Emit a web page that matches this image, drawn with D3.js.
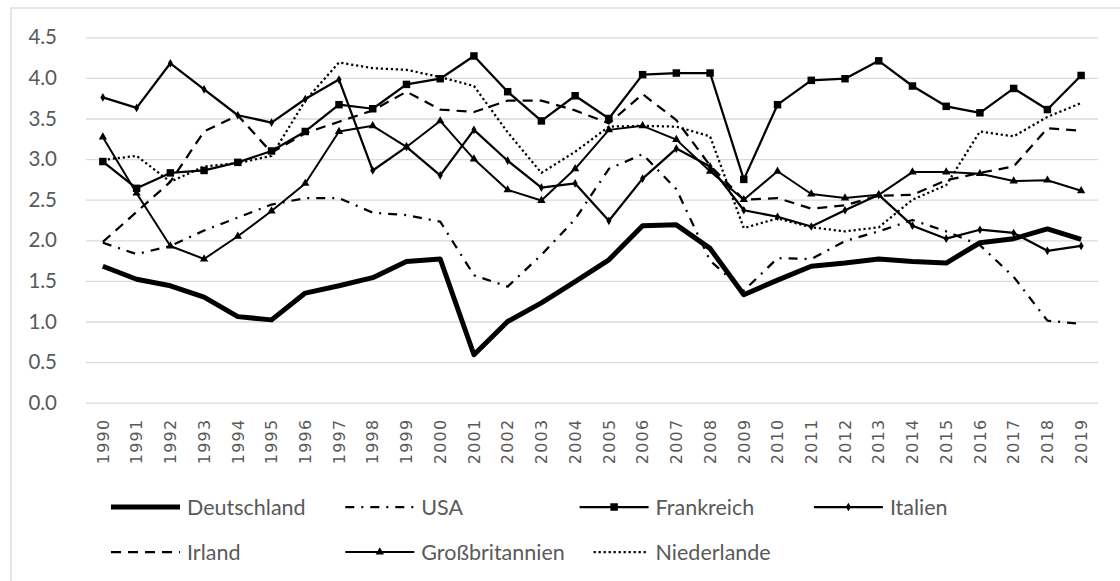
<!DOCTYPE html>
<html>
<head>
<meta charset="utf-8">
<script src="https://cdn.jsdelivr.net/npm/d3@7/dist/d3.min.js"></script>
<style>
  body { margin: 0; background: #fff; }
  svg { display: block; }
</style>
</head>
<body>
<svg id="chart" width="1120" height="581"></svg>
<script>
// data
var years = ["1990","1991","1992","1993","1994","1995","1996","1997","1998","1999",
             "2000","2001","2002","2003","2004","2005","2006","2007","2008","2009",
             "2010","2011","2012","2013","2014","2015","2016","2017","2018","2019"];

var deutschland = [1.68,1.52,1.44,1.30,1.06,1.02,1.35,1.44,1.54,1.74,1.77,0.59,1.00,1.23,1.49,1.76,2.18,2.19,1.90,1.33,1.51,1.68,1.72,1.77,1.74,1.72,1.97,2.02,2.14,2.01];
var usa = [1.97,1.83,1.93,2.12,2.28,2.44,2.52,2.52,2.34,2.31,2.23,1.57,1.43,1.82,2.26,2.88,3.06,2.63,1.75,1.38,1.78,1.77,1.99,2.11,2.25,2.11,1.94,1.55,1.01,0.97];
var frankreich = [2.97,2.64,2.83,2.86,2.96,3.10,3.34,3.67,3.62,3.92,3.99,4.27,3.83,3.47,3.78,3.50,4.04,4.06,4.06,2.75,3.67,3.97,3.99,4.21,3.90,3.65,3.57,3.87,3.61,4.03];
var italien = [3.76,3.63,4.18,3.86,3.54,3.45,3.74,3.98,2.86,3.15,2.80,3.36,2.98,2.65,2.70,2.24,2.76,3.13,2.91,2.37,2.29,2.17,2.37,2.56,2.18,2.02,2.13,2.09,1.87,1.93];
var irland = [1.98,2.35,2.72,3.34,3.54,3.08,3.32,3.46,3.60,3.83,3.61,3.58,3.72,3.72,3.60,3.44,3.80,3.48,2.92,2.50,2.52,2.39,2.43,2.55,2.56,2.74,2.83,2.91,3.38,3.35];
var grossbritannien = [3.27,2.58,1.93,1.77,2.05,2.36,2.70,3.34,3.41,3.15,3.47,3.00,2.62,2.49,2.88,3.36,3.41,3.24,2.85,2.50,2.85,2.57,2.52,2.56,2.84,2.84,2.82,2.73,2.74,2.61];
var niederlande = [2.99,3.04,2.72,2.91,2.95,3.04,3.72,4.19,4.12,4.10,4.01,3.90,3.33,2.83,3.09,3.40,3.41,3.40,3.28,2.15,2.27,2.16,2.11,2.16,2.50,2.68,3.34,3.28,3.52,3.69];

var yTicks = [0, 0.5, 1, 1.5, 2, 2.5, 3, 3.5, 4, 4.5];

var names = ["Deutschland", "USA", "Frankreich", "Italien", "Irland", "Großbritannien", "Niederlande"];
var values = [deutschland, usa, frankreich, italien, irland, grossbritannien, niederlande];

// styles for each series
var styles = {
    "Deutschland":    {width: 5,    dash: null,        marker: null},
    "USA":            {width: 2.25, dash: "9,7,2,7",   marker: null},
    "Frankreich":     {width: 2.25, dash: null,        marker: "square"},
    "Italien":        {width: 2.25, dash: null,        marker: "diamond"},
    "Irland":         {width: 2.25, dash: "10,7",      marker: null},
    "Großbritannien": {width: 2,    dash: null,        marker: "triangle"},
    "Niederlande":    {width: 2.25, dash: "2.2,2.8",   marker: null}
};

var svg = d3.select("#chart");
var textColor = "#595959";
var gridColor = "#d9d9d9";

// outer frame
svg.append("rect")
    .attr("x", 11).attr("y", 8)
    .attr("width", 1130).attr("height", 600)
    .attr("fill", "none")
    .attr("stroke", gridColor)
    .attr("stroke-width", 1.3);

var plotLeft = 86, plotRight = 1098, plotTop = 37.3, plotBottom = 402.7;

var x = d3.scaleBand().domain(years).range([plotLeft, plotRight]);
var y = d3.scaleLinear().domain([0, 4.5]).range([plotBottom, plotTop]);
function cx(i) { return x(years[i]) + x.bandwidth() / 2; }

// y axis + gridlines
var yAxis = d3.axisLeft(y)
    .tickValues(yTicks)
    .tickFormat(d3.format(".1f"))
    .tickSizeInner(-(plotRight - plotLeft))
    .tickSizeOuter(0)
    .tickPadding(29);

var gy = svg.append("g")
    .attr("transform", "translate(" + plotLeft + ",0)")
    .call(yAxis);
gy.select(".domain").remove();
gy.selectAll(".tick line")
    .attr("stroke", gridColor)
    .attr("stroke-width", 1.3);
gy.selectAll(".tick text")
    .attr("fill", textColor)
    .style("font-family", "Lato, 'Open Sans', sans-serif")
    .style("font-size", "20.5px");

// x axis
var xAxis = d3.axisBottom(x).tickSize(0);
var gx = svg.append("g")
    .attr("transform", "translate(0," + plotBottom + ")")
    .call(xAxis);
gx.select(".domain").remove();
gx.selectAll(".tick text")
    .attr("fill", textColor)
    .attr("transform", "rotate(-90)")
    .attr("x", -16)
    .attr("y", 0)
    .attr("dy", "0.36em")
    .style("text-anchor", "end")
    .style("font-family", "'DejaVu Sans', sans-serif")
    .style("font-size", "16px")
    .style("letter-spacing", "1.2px");

// marker paths
function markerPath(type) {
    if (type === "square") return d3.symbol(d3.symbolSquare, 56)();
    if (type === "diamond") return d3.symbol(d3.symbolDiamond, 22)();
    if (type === "triangle") return d3.symbol(d3.symbolTriangle, 30)();
    return null;
}

var line = d3.line()
    .x(function(d, i) { return cx(i); })
    .y(function(d) { return y(d); });

var plot = svg.append("g");

names.forEach(function(name, k) {
    var st = styles[name];
    plot.append("path")
        .datum(values[k])
        .attr("d", line)
        .attr("fill", "none")
        .attr("stroke", "#000")
        .attr("stroke-width", st.width)
        .attr("stroke-linejoin", "round")
        .attr("stroke-dasharray", st.dash);

    if (st.marker) {
        plot.selectAll(".m" + k)
            .data(values[k])
            .enter()
            .append("path")
            .attr("class", "m" + k)
            .attr("d", markerPath(st.marker))
            .attr("transform", function(d, i) {
                return "translate(" + cx(i) + "," + y(d) + ")";
            })
            .attr("fill", "#000");
    }
});

// legend
var legend = svg.append("g");
var legX0 = 111, legColW = 234.3, legRowY = [507, 552], legLineW = 69;

names.forEach(function(name, k) {
    var st = styles[name];
    var col = k < 4 ? k : k - 4;
    var row = k < 4 ? 0 : 1;
    var lx = legX0 + col * legColW;
    var ly = legRowY[row];
    var g = legend.append("g");

    var x1 = lx;
    if (name === "Niederlande") x1 = lx + 14;
    g.append("line")
        .attr("x1", x1).attr("x2", lx + legLineW)
        .attr("y1", ly).attr("y2", ly)
        .attr("stroke", "#000")
        .attr("stroke-width", st.width)
        .attr("stroke-dasharray", st.dash);

    if (st.marker) {
        g.append("path")
            .attr("d", markerPath(st.marker))
            .attr("transform", "translate(" + (lx + legLineW / 2) + "," + ly + ")")
            .attr("fill", "#000");
    }

    g.append("text")
        .attr("x", lx + legLineW + 7)
        .attr("y", ly)
        .attr("dy", "0.35em")
        .attr("fill", textColor)
        .style("font-family", "Lato, 'Open Sans', sans-serif")
        .style("font-size", "21.5px")
        .text(name);
});
</script>
</body>
</html>
